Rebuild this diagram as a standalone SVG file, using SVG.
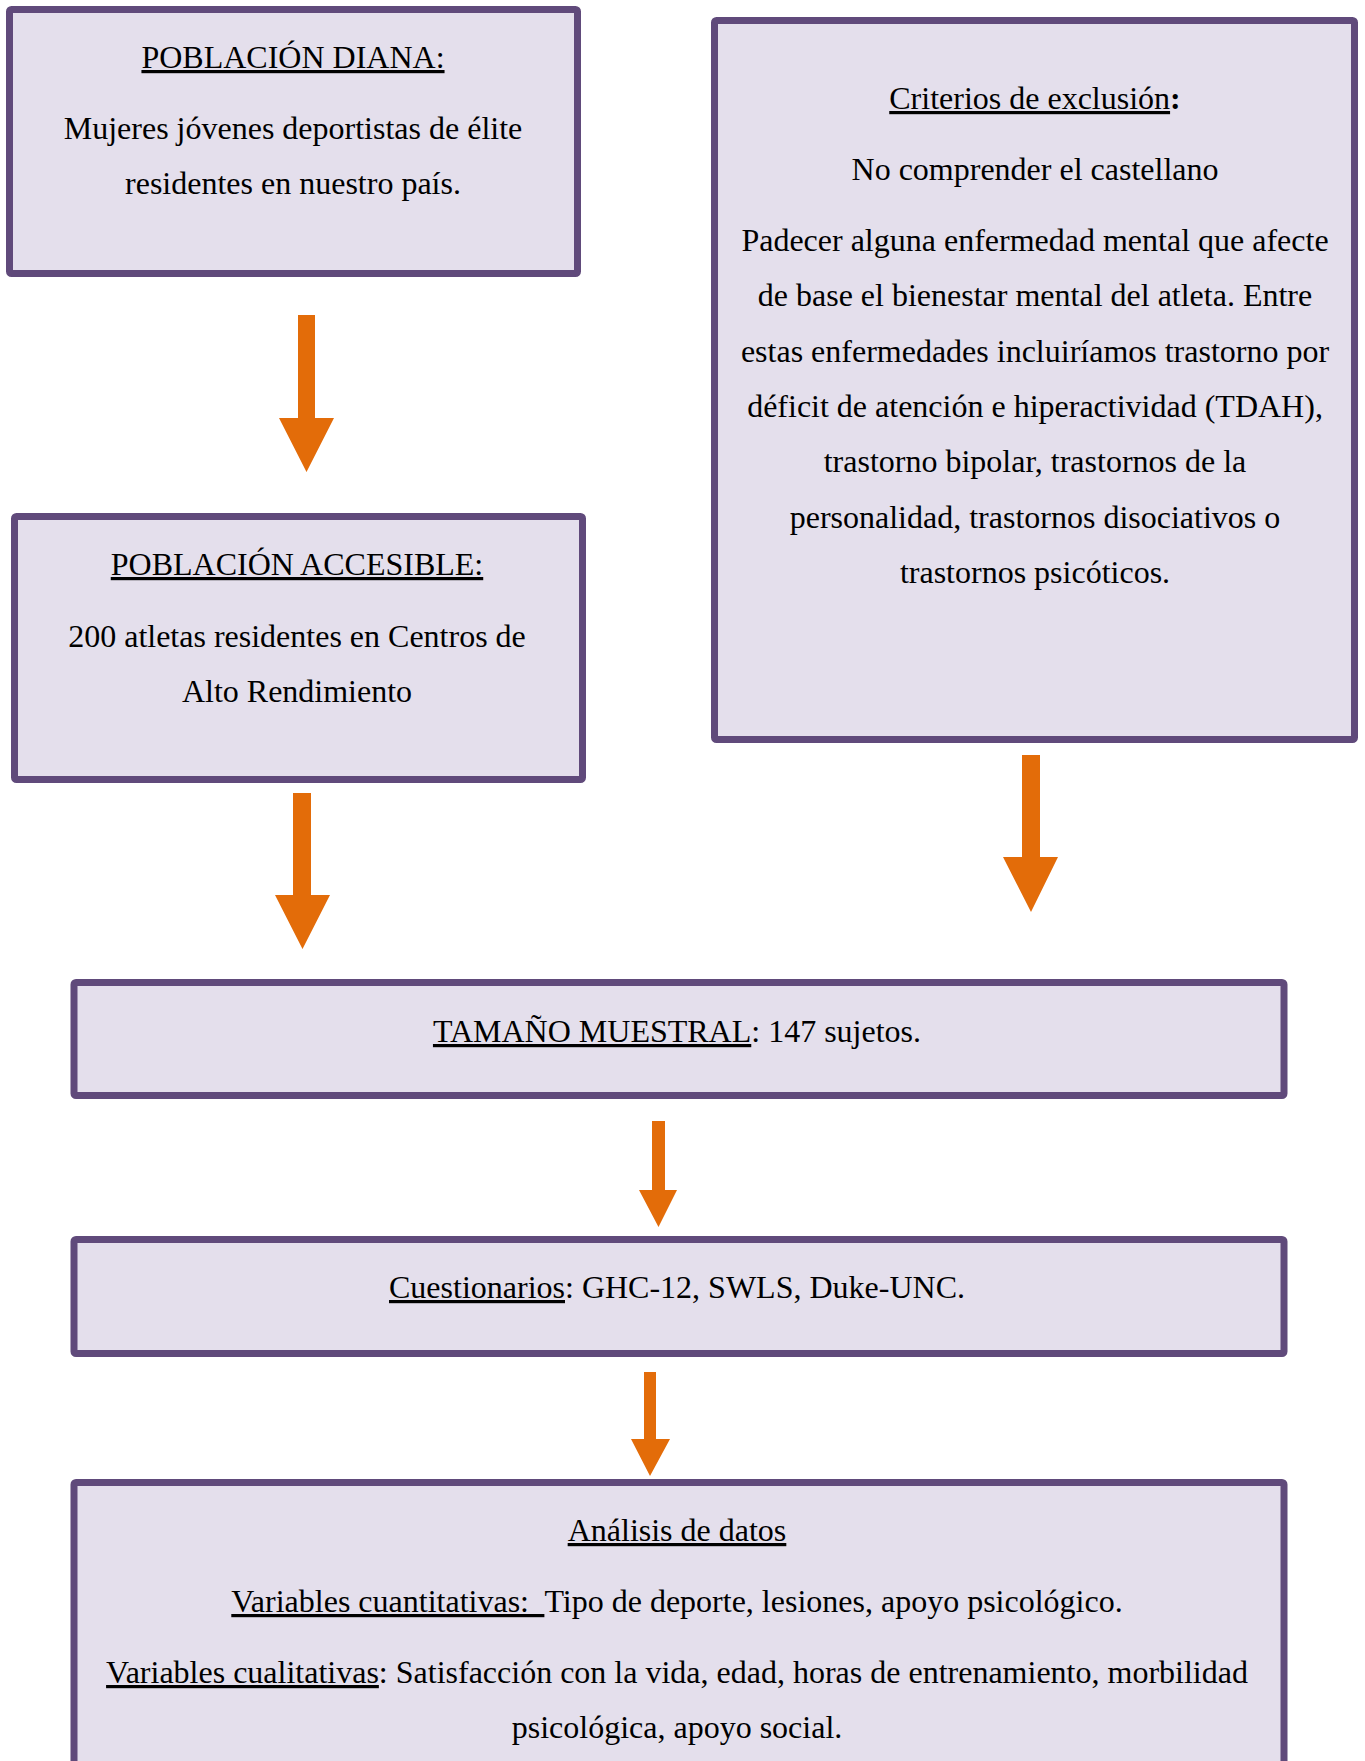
<svg xmlns="http://www.w3.org/2000/svg" width="1365" height="1761" viewBox="0 0 1365 1761">
<style>
.box{fill:#E4DFEC;stroke:#604A7B;stroke-width:7}
.t{font-family:"Liberation Serif","Times New Roman",serif;font-size:32px;fill:#000;text-anchor:middle}
.u{text-decoration:underline}
.arr{fill:#E36C09}
</style>
<rect width="1365" height="1761" fill="#fff"/>
<g id="poblacion-diana">
<rect class="box" x="9.5" y="9.5" width="568" height="264" rx="2"/>
<text class="t" x="293" y="68"><tspan class="u">POBLACIÓN DIANA:</tspan></text>
<text class="t" x="293" y="139">Mujeres jóvenes deportistas de élite</text>
<text class="t" x="293" y="194">residentes en nuestro país.</text>
</g>
<g id="poblacion-accesible">
<rect class="box" x="14.5" y="516.5" width="568" height="263" rx="2"/>
<text class="t" x="297" y="575"><tspan class="u">POBLACIÓN ACCESIBLE:</tspan></text>
<text class="t" x="297" y="647">200 atletas residentes en Centros de</text>
<text class="t" x="297" y="702">Alto Rendimiento</text>
</g>
<g id="criterios-exclusion">
<rect class="box" x="714.5" y="20.5" width="640" height="719" rx="2"/>
<text class="t" x="1035" y="109"><tspan class="u">Criterios de exclusión</tspan><tspan font-weight="bold">:</tspan></text>
<text class="t" x="1035" y="180">No comprender el castellano</text>
<text class="t" x="1035" y="251">Padecer alguna enfermedad mental que afecte</text>
<text class="t" x="1035" y="306">de base el bienestar mental del atleta. Entre</text>
<text class="t" x="1035" y="362">estas enfermedades incluiríamos trastorno por</text>
<text class="t" x="1035" y="417">déficit de atención e hiperactividad (TDAH),</text>
<text class="t" x="1035" y="472">trastorno bipolar, trastornos de la</text>
<text class="t" x="1035" y="528">personalidad, trastornos disociativos o</text>
<text class="t" x="1035" y="583">trastornos psicóticos.</text>
</g>
<g id="tamano-muestral">
<rect class="box" x="74" y="982.5" width="1210" height="113" rx="2"/>
<text class="t" x="677" y="1042"><tspan class="u">TAMAÑO MUESTRAL</tspan>: 147 sujetos.</text>
</g>
<g id="cuestionarios">
<rect class="box" x="74" y="1239.5" width="1210" height="114" rx="2"/>
<text class="t" x="677" y="1298"><tspan class="u">Cuestionarios</tspan>: GHC-12, SWLS, Duke-UNC.</text>
</g>
<g id="analisis-datos">
<rect class="box" x="74" y="1482.5" width="1210" height="320" rx="2"/>
<text class="t" x="677" y="1541"><tspan class="u">Análisis de datos</tspan></text>
<text class="t" x="677" y="1612" style="white-space:pre"><tspan class="u">Variables cuantitativas:  </tspan>Tipo de deporte, lesiones, apoyo psicológico.</text>
<text class="t" x="677" y="1683"><tspan class="u">Variables cualitativas</tspan>: Satisfacción con la vida, edad, horas de entrenamiento, morbilidad</text>
<text class="t" x="677" y="1738">psicológica, apoyo social.</text>
</g>
<g id="connectors">
<polygon class="arr" points="298,315 315,315 315,418 334,418 306.5,472 279,418 298,418"/>
<polygon class="arr" points="293,793 311,793 311,895 330,895 302.5,949 275,895 293,895"/>
<polygon class="arr" points="1022,755 1040,755 1040,857 1058,857 1031,912 1003,857 1022,857"/>
<polygon class="arr" points="652,1121 665,1121 665,1190 677,1190 658.5,1227 639,1190 652,1190"/>
<polygon class="arr" points="644,1372 656,1372 656,1439 670,1439 650,1476 631,1439 644,1439"/>
</g>
</svg>
